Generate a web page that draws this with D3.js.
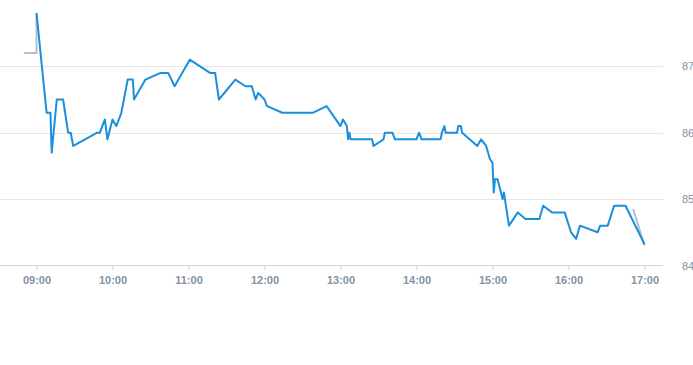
<!DOCTYPE html>
<html>
<head>
<meta charset="utf-8">
<script src="https://cdn.jsdelivr.net/npm/d3@7"></script>
<style>
html,body{margin:0;padding:0;background:#fff;}
svg{display:block;font-family:"Liberation Sans",Arial,sans-serif;}
</style>
</head>
<body>
<svg id="chart" width="693" height="365"></svg>
<script>
// Main session price series (time, price)
const times = ["09:00","09:08","09:11","09:12","09:16","09:21","09:25","09:27","09:29","09:48","09:50","09:54","09:56","10:00","10:03","10:07","10:12","10:16","10:17","10:26","10:38","10:44","10:49","11:01","11:17","11:21","11:24","11:37","11:45","11:50","11:53","11:55","12:00","12:02","12:14","12:38","12:49","13:00","13:02","13:05","13:06","13:07","13:08","13:25","13:26","13:34","13:35","13:41","13:43","14:00","14:02","14:04","14:19","14:20","14:22","14:23","14:32","14:33","14:35","14:36","14:48","14:51","14:55","14:58","15:00","15:01","15:02","15:04","15:08","15:09","15:13","15:20","15:26","15:37","15:40","15:47","15:57","16:02","16:06","16:09","16:23","16:25","16:31","16:36","16:45","17:00"];
const prices = [87.8,86.3,86.3,85.7,86.5,86.5,86.0,86.0,85.8,86.0,86.0,86.2,85.9,86.2,86.1,86.3,86.8,86.8,86.5,86.8,86.9,86.9,86.7,87.1,86.9,86.9,86.5,86.8,86.7,86.7,86.5,86.6,86.5,86.4,86.3,86.3,86.4,86.1,86.2,86.1,85.9,86.0,85.9,85.9,85.8,85.9,86.0,86.0,85.9,85.9,86.0,85.9,85.9,86.0,86.1,86.0,86.0,86.1,86.1,86.0,85.8,85.9,85.8,85.6,85.55,85.1,85.3,85.3,85.0,85.1,84.6,84.8,84.7,84.7,84.9,84.8,84.8,84.5,84.4,84.6,84.5,84.6,84.6,84.9,84.9,84.32];
// Pre-session and post-session series (grey)
const preTimes = ["08:50","09:00","09:00"];
const preValues = [87.2,87.2,87.8];
const postTimes = ["16:51","17:00"];
const postValues = [84.85,84.3];
// Axis ticks
const xTickLabels = ["09:00","10:00","11:00","12:00","13:00","14:00","15:00","16:00","17:00"];
const yTickValues = [84,85,86,87];

const parse = s => { const [h,m] = s.split(":").map(Number); return new Date(2024,0,1,h,m); };

const svg = d3.select("#chart");
const margin = {left:0, right:30, top:0, bottom:0};
const plotRight = 663, plotBottom = 265.5;

const x = d3.scaleTime()
  .domain([parse("09:00"), parse("17:00")])
  .range([36.5, 644.5]);
const y = d3.scaleLinear()
  .domain([84, 87])
  .range([plotBottom, 66.3]);

// gridlines
svg.append("g").selectAll("line").data(yTickValues.filter(v=>v!==84)).join("line")
  .attr("x1",0).attr("x2",plotRight)
  .attr("y1",d=>Math.round(y(d))+0.5).attr("y2",d=>Math.round(y(d))+0.5)
  .attr("stroke","#e6e6e6").attr("stroke-width",1);

// x axis
const xAxis = d3.axisBottom(x)
  .tickValues(xTickLabels.map(parse))
  .tickFormat(d3.timeFormat("%H:%M"))
  .tickSize(5).tickPadding(6);
const gx = svg.append("g").attr("transform",`translate(0,${Math.round(plotBottom)-0.5})`).call(xAxis);
gx.select(".domain").remove();
gx.append("line").attr("x1",0).attr("x2",plotRight).attr("y1",0).attr("y2",0).attr("stroke","#ccd6eb");
gx.selectAll(".tick line").attr("stroke","#ccd6eb");
gx.selectAll(".tick text").attr("fill","#8392a5").attr("font-size","11px").attr("font-weight","bold")
  .attr("font-family","'Liberation Sans',Arial,sans-serif");

// y axis (right)
const yAxis = d3.axisRight(y).tickValues(yTickValues).tickFormat(d3.format("d")).tickSize(0).tickPadding(0);
const gy = svg.append("g").attr("transform",`translate(682,0)`).call(yAxis);
gy.select(".domain").remove();
gy.selectAll(".tick text").attr("fill","#8392a5").attr("font-size","11px")
  .attr("font-family","'Liberation Sans',Arial,sans-serif");

const line = d3.line().x(d=>x(d[0])).y(d=>y(d[1]));

svg.append("path")
  .datum(preTimes.map((t,i)=>[parse(t),preValues[i]]))
  .attr("d",line).attr("fill","none").attr("stroke","#b4bfc8").attr("stroke-width",2);

svg.append("path")
  .datum(postTimes.map((t,i)=>[parse(t),postValues[i]]))
  .attr("d",line).attr("fill","none").attr("stroke","#b4bfc8").attr("stroke-width",2);

svg.append("path")
  .datum(times.map((t,i)=>[parse(t),prices[i]]))
  .attr("d",line).attr("fill","none").attr("stroke","#1a8fdc").attr("stroke-width",2)
  .attr("stroke-linejoin","round");
</script>
</body>
</html>
